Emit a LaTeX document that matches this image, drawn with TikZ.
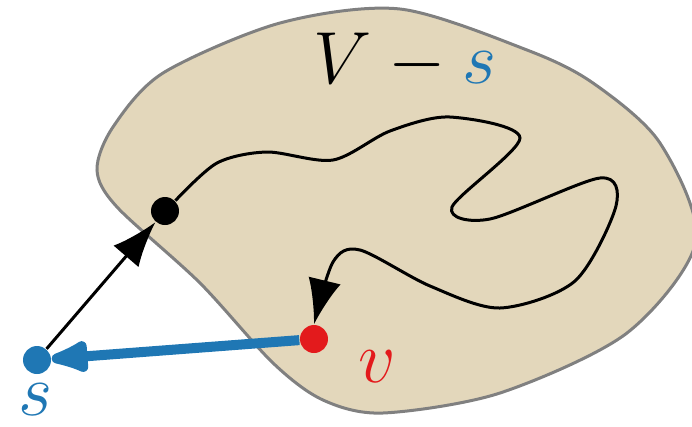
\documentclass[tikz,border=0pt]{standalone}
\usepackage{fix-cm}
\definecolor{regiontan}{RGB}{227, 215, 187}
\definecolor{regiongray}{RGB}{128, 128, 128}
\definecolor{srcblue}{RGB}{31, 119, 180}
\definecolor{tgtred}{RGB}{227, 26, 28}
\usetikzlibrary{arrows.meta}
\tikzset{
	region/.style={draw=regiongray, fill=regiontan, line width=0.3mm},
	vdot/.style={circle, inner sep=0pt, minimum size=2.8mm},
	walk/.style={-{Latex[length=4.5mm, width=3.3mm]}, line width=0.3mm},
	jump/.style={-{Latex[length=5.2mm, width=3.8mm, round]}, line width=1mm, draw=srcblue},
	biglabel/.style={font=\fontsize{21}{25}\selectfont, inner sep=0pt, anchor=base},
}
\begin{document}
\begin{tikzpicture}
		\useasboundingbox (0,0) rectangle (6.92,4.26);
		% the set V - s
		\draw[region] plot[smooth cycle] coordinates {(4.00,4.17) (5.27,3.76) (5.93,3.43) (6.60,2.83) (6.96,1.85) (6.27,0.93) (5.00,0.33) (3.83,0.13) (3.23,0.26) (2.73,0.63) (2.00,1.43) (1.17,2.19) (0.97,2.56) (1.13,2.99) (1.63,3.53) (2.80,4.03)};
		\node[biglabel] (rest) at (4.05,3.43) {$V - {\color{srcblue}s}$};
		% vertices
		\node[vdot, fill=srcblue] (s) at (0.37,0.66) {};
		\node[vdot, fill=black] (u) at (1.65,2.15) {};
		\node[vdot, fill=tgtred] (v) at (3.14,0.87) {};
		\node[biglabel, text=srcblue] (slab) at (0.36,0.11) {$s$};
		\node[biglabel, text=tgtred] (vlab) at (3.77,0.44) {$v$};
		% edges
		\draw[walk] (s) -- (u);
		\draw[walk] plot[smooth] coordinates {(u.45) (2.17,2.63) (2.67,2.74) (3.33,2.66) (3.90,2.95) (4.50,3.09) (5.20,2.88) (4.52,2.19) (4.90,2.07) (6.00,2.48) (6.16,2.20) (5.75,1.45) (5.00,1.18) (4.30,1.40) (3.60,1.76) (3.33,1.64) (v.north)};
		\draw[jump] (v) -- (s);
	\end{tikzpicture}
\end{document}
